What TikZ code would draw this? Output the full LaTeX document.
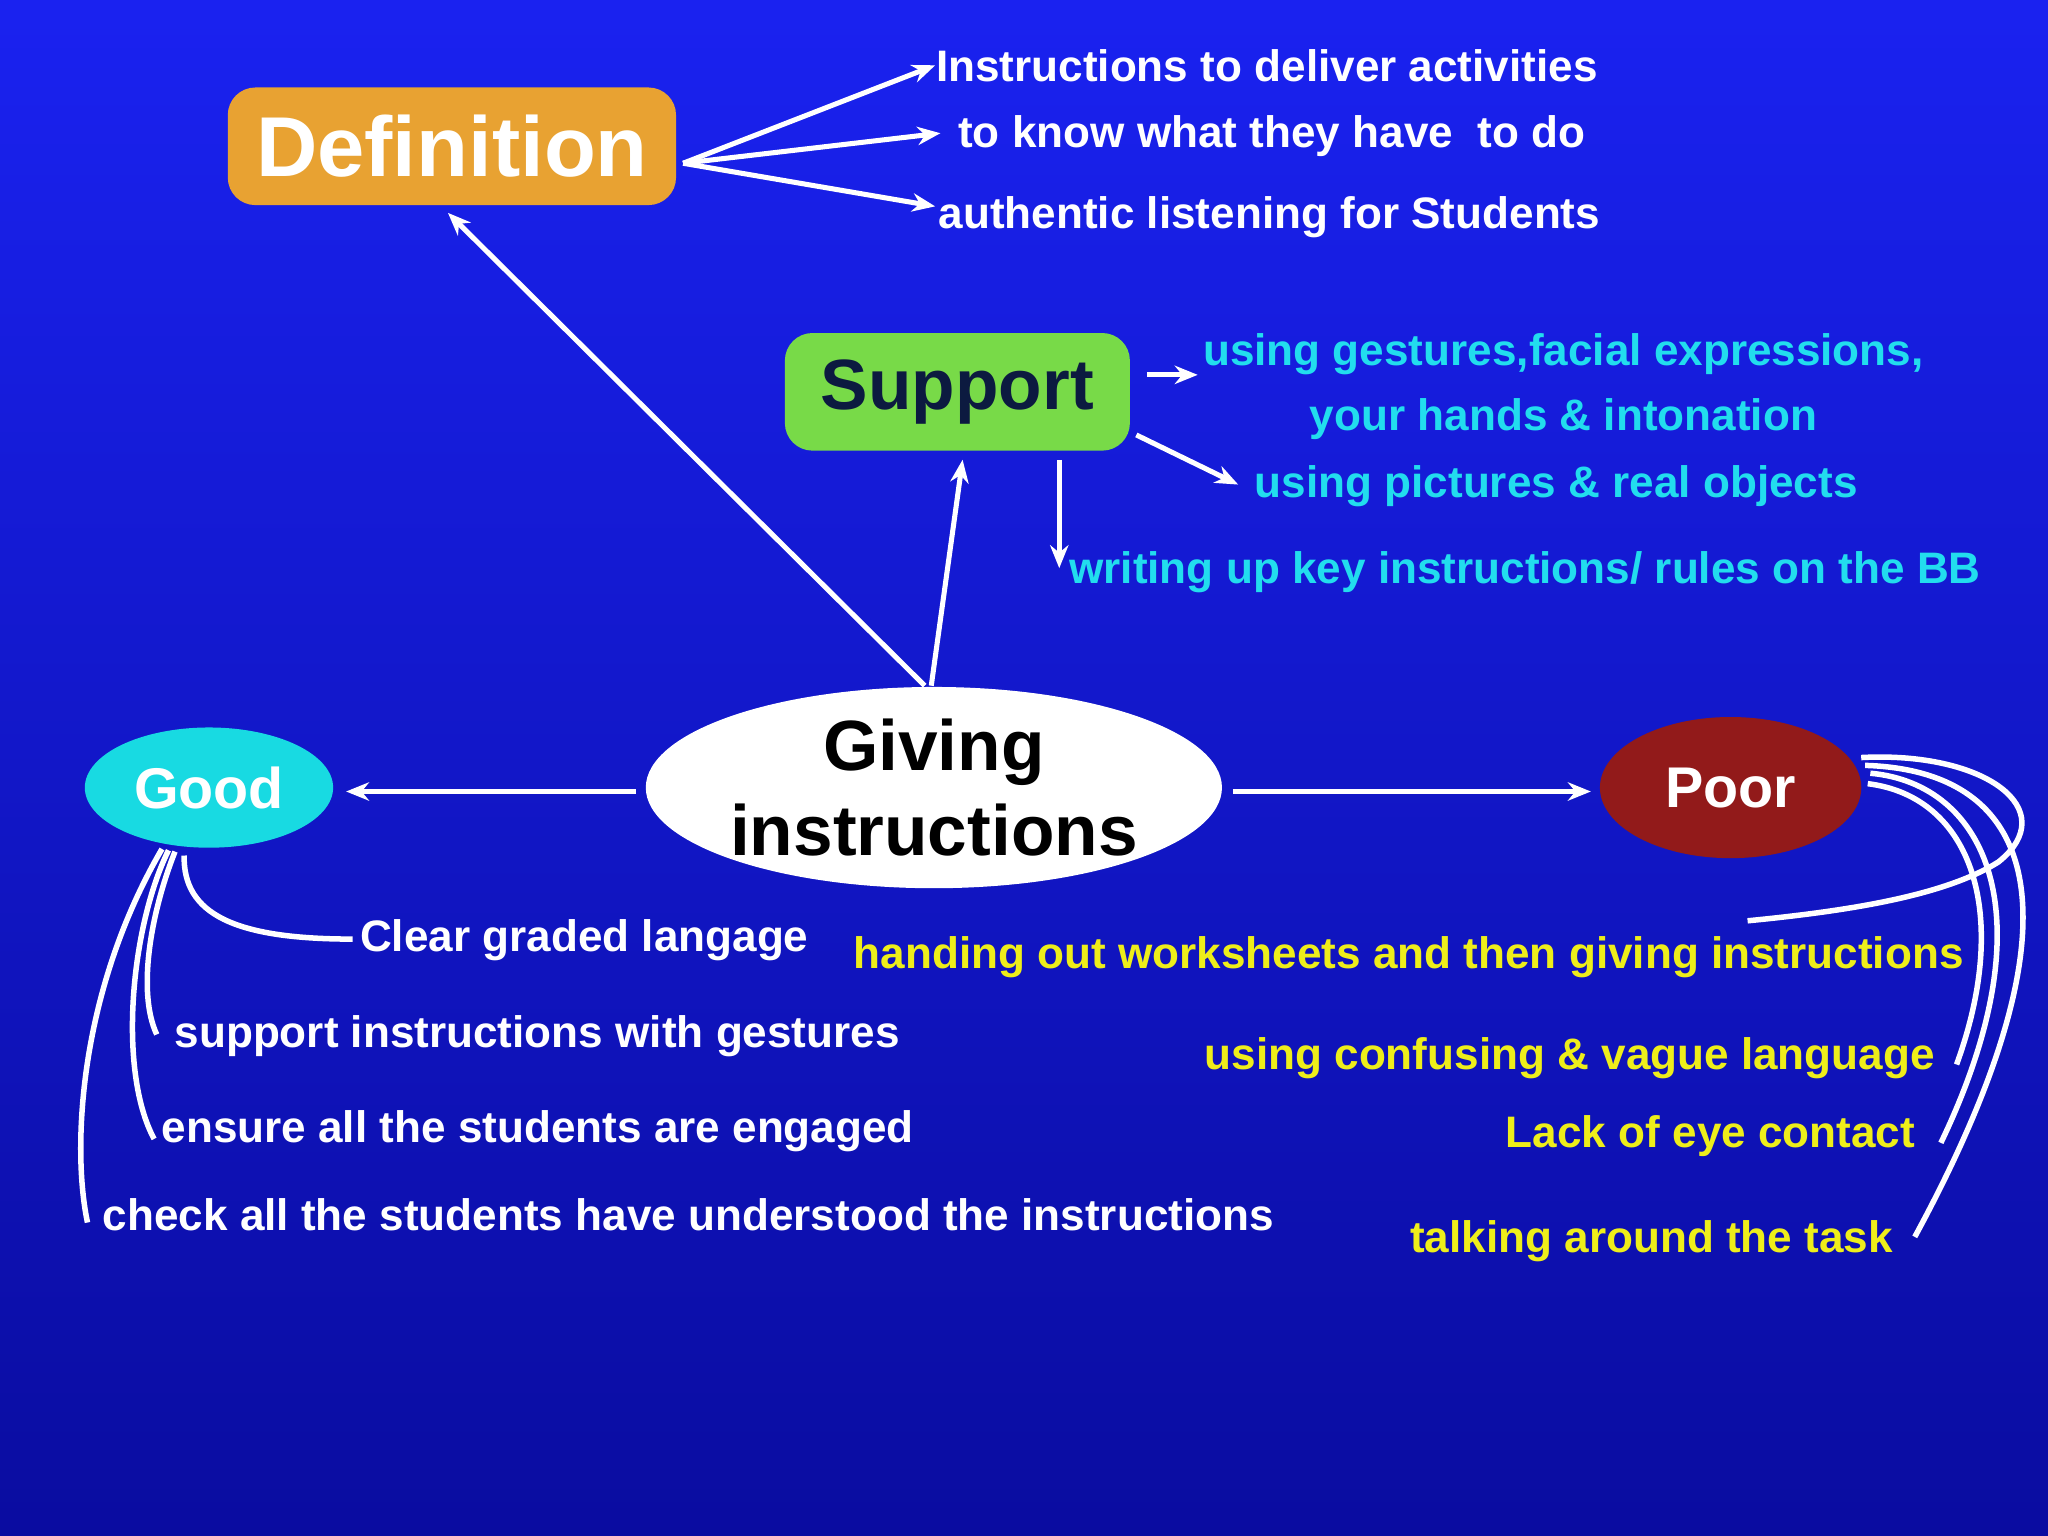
\documentclass[tikz,border=0pt]{standalone}
\usepackage{fontspec}
\setmainfont{Liberation Sans}
\usetikzlibrary{shapes.geometric,arrows.meta}
\definecolor{bgtop}{HTML}{1A22F0}
\definecolor{bgbot}{HTML}{0A0CA0}
\definecolor{deforange}{HTML}{E8A232}
\definecolor{supgreen}{HTML}{78DA48}
\definecolor{supnavy}{HTML}{0C1A40}
\definecolor{cyantext}{HTML}{22DDEE}
\definecolor{goodcyan}{HTML}{18DAE2}
\definecolor{poorred}{HTML}{921A1A}
\definecolor{yel}{HTML}{EEEE1A}
\tikzset{
  arr/.style={draw=white,line width=1.1pt,-{Stealth[length=5pt,width=4pt]}},
  curv/.style={draw=white,line width=1.2pt},
  item/.style={font=\fontsize{9.6}{11}\selectfont\bfseries,inner sep=0pt},
  wt/.style={item,text=white},
  ct/.style={item,text=cyantext},
  yt/.style={item,text=yel}
}
\begin{document}
\begin{tikzpicture}[x=0.01cm,y=-0.01cm]
\shade[top color=bgtop,bottom color=bgbot] (0,0) rectangle (1568,1176);
\useasboundingbox (0,0) rectangle (1568,1176);
% main nodes
\node[fill=deforange,rounded corners=6pt,inner sep=0pt,
  text width=3.43cm,minimum height=0.9cm,align=center,text=white,font=\fontsize{18.5}{20}\selectfont\bfseries] (def) at (346,112) {Definition};
\node[fill=supgreen,rounded corners=6pt,inner sep=0pt,text width=2.64cm,minimum height=0.9cm,align=center,
  text=supnavy,font=\fontsize{15.5}{18}\selectfont\bfseries] (sup) at (733,300) {Support};
\node[ellipse,fill=white,minimum width=4.4cm,minimum height=1.54cm,inner sep=0pt,align=center,
  font=\fontsize{15.5}{18.5}\selectfont\bfseries] (giv) at (715,603) {Giving\\instructions};
\node[ellipse,fill=goodcyan,minimum width=1.9cm,minimum height=0.92cm,inner sep=0pt,text=white,
  font=\fontsize{12.5}{14}\selectfont\bfseries] (good) at (160,603) {Good};
\node[ellipse,fill=poorred,minimum width=2.0cm,minimum height=1.08cm,inner sep=0pt,text=white,
  font=\fontsize{12.5}{14}\selectfont\bfseries] (poor) at (1325,603) {Poor};
% definition items
\node[wt,anchor=west] (d1) at (716,50) {Instructions to deliver activities};
\node[wt,anchor=west] (d2) at (733,104) {to know what they have\ \ to do};
\node[wt,anchor=west] (d3) at (718,166) {authentic listening for Students};
\coordinate (ds) at (523,125);
\draw[arr] (ds) -- (d1.west);
\draw[arr] (ds) -- (720,102) coordinate (d2e);
\draw[arr] (ds) -- (716,158) coordinate (d3e);
% support items
\node[ct,align=center] (s1) at (1197,296) {using gestures,facial expressions,\\[3pt]your hands \& intonation};
\node[ct,anchor=west] (s2) at (960,372) {using pictures \& real objects};
\node[ct,anchor=west] (s3) at (818,438) {writing up key instructions/ rules on the BB};
\draw[arr] (878,287) -- (917,287) coordinate (s1e);
\draw[arr] (870,333) -- (948,371) coordinate (s2e);
\draw[arr] (811,352) -- (811,435) coordinate (s3e);
% from giving
\draw[arr] (708,525) -- (343,163) coordinate (defb);
\draw[arr] (713,525) -- (737,352) coordinate (supb);
\draw[arr] (487,606) -- (265,606) coordinate (goodr);
\draw[arr] (944,606) -- (1218,606) coordinate (poorl);
% good items
\node[wt,anchor=west] (g1) at (275,720) {Clear graded langage};
\node[wt,anchor=west] (g2) at (133,793) {support instructions with gestures};
\node[wt,anchor=west] (g3) at (123,866) {ensure all the students are engaged};
\node[wt,anchor=west] (g4) at (78,930) {check all the students have understood the instructions};
\draw[curv] (141,655) .. controls (140,700) and (180,719) .. (270,719);
\draw[curv] (134,652) .. controls (115,700) and (105,760) .. (120,792);
\draw[curv] (129,651) .. controls (100,710) and (90,820) .. (118,872);
\draw[curv] (124,650) .. controls (60,760) and (55,880) .. (67,936);
% poor items
\node[yt,anchor=east] (p1) at (1504,733) {handing out worksheets and then giving instructions};
\node[yt,anchor=east] (p2) at (1482,810) {using confusing \& vague language};
\node[yt,anchor=east] (p3) at (1467,870) {Lack of eye contact};
\node[yt,anchor=east] (p4) at (1450,950) {talking around the task};
\draw[curv] (1425,580) .. controls (1520,575) and (1580,620) .. (1530,660) .. controls (1490,685) and (1420,697) .. (1338,705);
\draw[curv] (1430,600) .. controls (1510,610) and (1540,700) .. (1498,815);
\draw[curv] (1432,592) .. controls (1520,600) and (1570,700) .. (1486,875);
\draw[curv] (1428,586) .. controls (1560,590) and (1600,700) .. (1466,947);
\end{tikzpicture}
\end{document}
